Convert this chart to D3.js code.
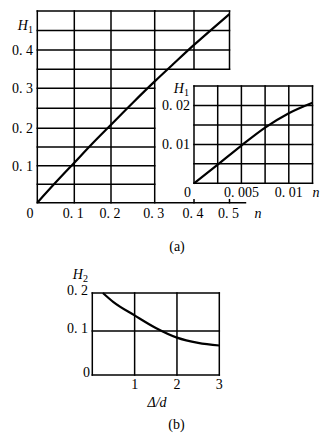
<!DOCTYPE html>
<html><head><meta charset="utf-8">
<script src="https://cdn.jsdelivr.net/npm/d3@7"></script>
<style>
body{margin:0;background:#fff;}
svg{display:block;}
</style></head>
<body>
<svg id="c" width="330" height="445"></svg>
<script>
// ---- data (a) main ----
const nMain = [0, 0.05, 0.1, 0.15, 0.2, 0.25, 0.3, 0.35, 0.4, 0.45, 0.5];
const h1Main = [0, 0.055, 0.108, 0.16, 0.209, 0.264, 0.318, 0.366, 0.413, 0.453, 0.492];
const mainXTicks = [0.1, 0.2, 0.3, 0.4, 0.5];
const mainXTickLabels = ["0. 1", "0. 2", "0. 3", "0. 4", "0. 5"];
const mainYTicks = [0.1, 0.2, 0.3, 0.4];
const mainYTickLabels = ["0. 1", "0. 2", "0. 3", "0. 4"];
// ---- data (a) inset ----
const nInset = [0, 0.0025, 0.005, 0.0075, 0.01, 0.0125];
const h1Inset = [0, 0.0048, 0.0097, 0.0143, 0.018, 0.0207];
const insetXTicks = [0.005, 0.01];
const insetXTickLabels = ["0. 005", "0. 01"];
const insetYTicks = [0.01, 0.02];
const insetYTickLabels = ["0. 01", "0. 02"];
// ---- data (b) ----
const ratioB = [0.25, 0.5, 1, 1.5, 2, 2.5, 3];
const h2B = [0.2, 0.176, 0.141, 0.108, 0.085, 0.073, 0.067];
const bXTicks = [1, 2, 3];
const bXTickLabels = ["1", "2", "3"];
const bYTicks = [0.1, 0.2];
const bYTickLabels = ["0. 1", "0. 2"];

const FONT = "'Liberation Serif', 'DejaVu Serif', 'Times New Roman', serif";
const svg = d3.select("#c").attr("font-family", FONT);
const FS = 14;
function line(g, x1, y1, x2, y2, w) {
  g.append("line").attr("x1", x1).attr("y1", y1).attr("x2", x2).attr("y2", y2)
    .attr("stroke", "#000").attr("stroke-width", w || 1.5).attr("stroke-linecap", "square");
}
function label(g, x, y, t, anchor, italic) {
  return g.append("text").attr("x", x).attr("y", y).attr("text-anchor", anchor || "middle")
    .attr("dy", "0.35em").attr("font-family", FONT).attr("font-size", FS).attr("fill", "#000")
    .attr("font-style", italic ? "italic" : null).text(t);
}
function hLabel(g, x, y, sub) {
  const t = g.append("text").attr("x", x).attr("y", y).attr("text-anchor", "end")
    .attr("font-family", FONT).attr("font-size", FS).attr("fill", "#000");
  t.append("tspan").attr("font-style", "italic").text("H");
  t.append("tspan").attr("font-size", FS * 0.72).attr("dy", 2.5).text(sub);
}

// ===== (a) main =====
const gA = svg.append("g");
const xA = d3.scaleLinear().domain([0, 0.1, 0.2, 0.3, 0.4, 0.5]).range([37.3, 74.3, 111, 154.7, 194, 229.5]);
const yA = d3.scaleLinear().domain([0, 0.1, 0.2, 0.3, 0.4, 0.5]).range([202.7, 165.7, 128.3, 88.3, 50, 11]);
d3.range(1, 11).map(i => i * 0.05).forEach(v => line(gA, xA(0), yA(v), xA(0.3), yA(v)));
[0.35, 0.4, 0.45, 0.5].forEach(v => line(gA, xA(0.3), yA(v), xA(0.5), yA(v)));
[0, 0.1, 0.2, 0.3].forEach(v => line(gA, xA(v), yA(0), xA(v), yA(0.5)));
[0.4, 0.5].forEach(v => line(gA, xA(v), yA(0.35), xA(v), yA(0.5)));
line(gA, xA(0), yA(0), xA(0.545), yA(0));
[0.4, 0.5].forEach(v => line(gA, xA(v), yA(0), xA(v), yA(0) - 3));
mainXTicks.forEach((v, i) => label(gA, xA(v) - 1, 213, mainXTickLabels[i]));
label(gA, 30, 213, "0");
mainYTicks.forEach((v, i) => label(gA, 33, yA(v), mainYTickLabels[i], "end"));
hLabel(gA, 33, 30, "1");
label(gA, 258, 213, "n", "middle", true);
gA.append("path").datum(nMain.map((n, i) => [n, h1Main[i]]))
  .attr("fill", "none").attr("stroke", "#000").attr("stroke-width", 2.2)
  .attr("d", d3.line().x(d => xA(d[0])).y(d => yA(d[1])).curve(d3.curveMonotoneX));

// ===== (a) inset =====
const gI = svg.append("g");
const xI = d3.scaleLinear().domain([0, 0.0125]).range([194, 312.5]);
const yI = d3.scaleLinear().domain([0, 0.025]).range([183.3, 86]);
d3.range(1, 6).map(i => i * 0.005).forEach(v => line(gI, xI(0), yI(v), xI(0.0125), yI(v)));
d3.range(0, 6).map(i => i * 0.0025).forEach(v => line(gI, xI(v), yI(0), xI(v), yI(0.025)));
line(gI, xI(0), yI(0), xI(0.0125), yI(0));
insetXTicks.forEach((v, i) => label(gI, xI(v), 192, insetXTickLabels[i]));
label(gI, 187.5, 192, "0");
insetYTicks.forEach((v, i) => label(gI, 190, yI(v), insetYTickLabels[i], "end"));
hLabel(gI, 189, 93, "1");
label(gI, 316, 192, "n", "middle", true);
gI.append("path").datum(nInset.map((n, i) => [n, h1Inset[i]]))
  .attr("fill", "none").attr("stroke", "#000").attr("stroke-width", 2.2)
  .attr("d", d3.line().x(d => xI(d[0])).y(d => yI(d[1])).curve(d3.curveMonotoneX));

label(svg, 177, 246, "(a)");

// ===== (b) =====
const gB = svg.append("g");
const xB = d3.scaleLinear().domain([0, 3]).range([92.3, 219.3]);
const yB = d3.scaleLinear().domain([0, 0.1, 0.2]).range([375, 331, 293]);
bYTicks.forEach(v => line(gB, xB(0), yB(v), xB(3), yB(v)));
[0, 1, 2, 3].forEach(v => line(gB, xB(v), yB(0), xB(v), yB(0.2)));
line(gB, xB(0), yB(0), xB(3), yB(0));
bXTicks.forEach((v, i) => label(gB, xB(v), 384, bXTickLabels[i]));
bYTicks.forEach((v, i) => label(gB, 88, yB(v) - 3, bYTickLabels[i], "end"));
label(gB, 90, 372, "0", "end");
hLabel(gB, 88, 279, "2");
label(gB, 157, 402, "\u0394/d", "middle", true);
label(gB, 176.5, 424, "(b)");
gB.append("path").datum(ratioB.map((r, i) => [r, h2B[i]]))
  .attr("fill", "none").attr("stroke", "#000").attr("stroke-width", 2.2)
  .attr("d", d3.line().x(d => xB(d[0])).y(d => yB(d[1])).curve(d3.curveMonotoneX));
</script>
</body></html>
